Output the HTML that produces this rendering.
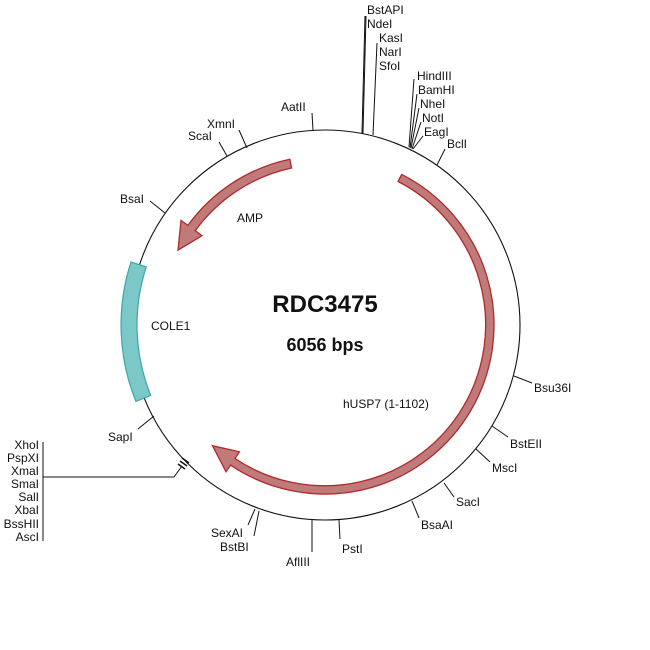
<!DOCTYPE html>
<html><head><meta charset="utf-8"><style>
html,body{margin:0;padding:0;background:#fff;}
svg{display:block;font-family:"Liberation Sans",Arial,sans-serif;}
text{font-size:12px;fill:#111;}
</style></head><body>
<svg id="s" width="650" height="650" viewBox="0 0 650 650">
<circle cx="325" cy="325" r="195" fill="none" stroke="#111" stroke-width="1.1"/>
<path id="cole" fill="#7cc8c8" stroke="#3aa8a8" stroke-width="1.2"/>
<path id="usp" fill="#c07a7a" stroke="#b02a2a" stroke-width="1.3"/>
<path id="amp" fill="#c07a7a" stroke="#b02a2a" stroke-width="1.3"/>
<g stroke="#111" stroke-width="1" fill="none">
<line x1="313" y1="130" x2="312" y2="113"/>
<line x1="247" y1="148" x2="239" y2="130"/>
<line x1="227" y1="156" x2="219" y2="142"/>
<line x1="165" y1="213" x2="150" y2="201"/>
<line x1="362" y1="133" x2="365" y2="16"/>
<line x1="363" y1="133" x2="366" y2="16"/>
<line x1="373" y1="135" x2="377" y2="43"/>
<line x1="409" y1="147" x2="414" y2="79"/>
<line x1="410" y1="148" x2="417" y2="94"/>
<line x1="411" y1="148" x2="419" y2="108"/>
<line x1="412" y1="149" x2="421" y2="122"/>
<line x1="413" y1="149" x2="423" y2="136"/>
<line x1="437" y1="165" x2="445" y2="149"/>
<line x1="514" y1="376" x2="532" y2="383"/>
<line x1="492" y1="426" x2="508" y2="437"/>
<line x1="476" y1="449" x2="490" y2="462"/>
<line x1="444" y1="483" x2="454" y2="497"/>
<line x1="412" y1="501" x2="419" y2="518"/>
<line x1="339" y1="520" x2="340" y2="539"/>
<line x1="312" y1="520" x2="312" y2="552"/>
<line x1="255" y1="509" x2="248" y2="525"/>
<line x1="259" y1="511" x2="254" y2="536"/>
<line x1="154" y1="416" x2="138" y2="429"/>
<line x1="180" y1="461" x2="187" y2="466" stroke-width="1.5"/>
<line x1="182" y1="458" x2="189" y2="463" stroke-width="1.5"/>
<line x1="178" y1="464" x2="185" y2="469" stroke-width="1.5"/>
<polyline points="182,466 174,477 43,477"/>
<line x1="43" y1="442" x2="43" y2="541"/>
</g>
<g>
<text x="281" y="111">AatII</text>
<text x="207" y="128">XmnI</text>
<text x="188" y="140">ScaI</text>
<text x="120" y="203">BsaI</text>
<text x="367" y="14">BstAPI</text>
<text x="367" y="28">NdeI</text>
<text x="379" y="42">KasI</text>
<text x="379" y="56">NarI</text>
<text x="379" y="70">SfoI</text>
<text x="417" y="80">HindIII</text>
<text x="418" y="94">BamHI</text>
<text x="420" y="108">NheI</text>
<text x="422" y="122">NotI</text>
<text x="424" y="136">EagI</text>
<text x="447" y="148">BclI</text>
<text x="534" y="392">Bsu36I</text>
<text x="510" y="448">BstEII</text>
<text x="492" y="472">MscI</text>
<text x="456" y="506">SacI</text>
<text x="421" y="529">BsaAI</text>
<text x="342" y="553">PstI</text>
<text x="286" y="566">AflIII</text>
<text x="211" y="537">SexAI</text>
<text x="220" y="551">BstBI</text>
<text x="108" y="441">SapI</text>
<g text-anchor="end">
<text x="39" y="449">XhoI</text>
<text x="39" y="462">PspXI</text>
<text x="39" y="475">XmaI</text>
<text x="39" y="488">SmaI</text>
<text x="39" y="501">SalI</text>
<text x="39" y="514">XbaI</text>
<text x="39" y="528">BssHII</text>
<text x="39" y="541">AscI</text>
</g>
<text x="237" y="222">AMP</text>
<text x="151" y="330">COLE1</text>
<text x="343" y="408">hUSP7 (1-1102)</text>
<text x="325" y="312" text-anchor="middle" style="font-size:24px;font-weight:bold">RDC3475</text>
<text x="325" y="351" text-anchor="middle" style="font-size:18px;font-weight:bold">6056 bps</text>
</g>
</svg>
<script>
function P(a,r){var t=a*Math.PI/180;return (325+r*Math.sin(t)).toFixed(1)+","+(325-r*Math.cos(t)).toFixed(1);}
function arc(a0,a1,r){var cw=a1>a0?1:0;var lg=Math.abs(a1-a0)>180?1:0;return "A"+r+","+r+" 0 "+lg+","+cw+" "+P(a1,r);}
function arrow(a0,ab,at,r,w,hw){
 var ro=r+w/2,ri=r-w/2;
 return "M"+P(a0,ro)+arc(a0,ab,ro)+"L"+P(ab,r+hw)+"L"+P(at,r)+"L"+P(ab,r-hw)+"L"+P(ab,ri)+arc(ab,a0,ri)+"Z";}
document.getElementById("usp").setAttribute("d",arrow(27,214,223,165,8,12));
document.getElementById("amp").setAttribute("d",arrow(348,306,297,165,9,13));
document.getElementById("cole").setAttribute("d","M"+P(288,204)+arc(288,248,204)+"L"+P(248,188)+arc(248,288,188)+"Z");
</script>
</body></html>
